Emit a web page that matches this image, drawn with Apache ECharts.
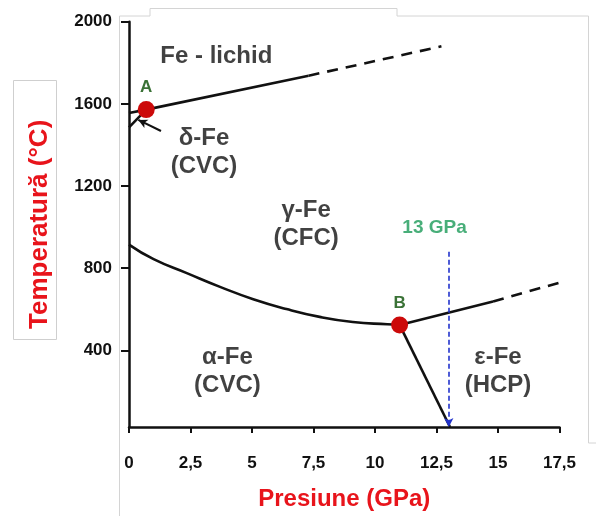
<!DOCTYPE html>
<html>
<head>
<meta charset="utf-8">
<script src="https://cdn.jsdelivr.net/npm/echarts@6/dist/echarts.min.js"></script>
<style>
html,body{margin:0;padding:0;background:#fff;}
#c{width:596px;height:516px;}
</style>
</head>
<body>
<div id="c"></div>
<script>
// ---- data (pressure GPa, temperature °C) ----
const xTicks = [0, 2.5, 5, 7.5, 10, 12.5, 15, 17.5];
const yTicks = [400, 800, 1200, 1600, 2000];
const liquidusSolid = [[0.7, 1572], [7.3, 1737]];
const liquidusDashed = [[7.3, 1737], [12.7, 1880]];
const deltaLiquid = [[0, 1556], [0.7, 1572]];
const deltaGamma = [[0, 1486], [0.7, 1572]];
const deltaPointer = [[1.3, 1468], [0.38, 1522]];
const alphaGamma = [[0, 915], [1.0, 844], [2.35, 776], [3.7, 709], [5.05, 649], [6.4, 601], [7.75, 563], [9.1, 538], [10.5, 527], [11.0, 524]];
const gammaEpsSolid = [[11.0, 524], [14.8, 638]];
const gammaEpsDashed = [[14.8, 638], [17.5, 730]];
const alphaEps = [[11.0, 524], [13.05, 27]];
const triplePoints = [[0.7, 1572, 'A'], [11.0, 524, 'B']];
const line13 = [[13, 880], [13, 27]];
const regionLabels = [
  [3.55, 1832, 'Fe - lichid'],
  [3.05, 1362, 'δ-Fe\n(CVC)'],
  [7.2, 1015, 'γ-Fe\n(CFC)'],
  [4.0, 299, 'α-Fe\n(CVC)'],
  [15.0, 297, 'ε-Fe\n(HCP)']
];
const gpaLabel = [[12.42, 996, '13 GPa']];

const chart = echarts.init(document.getElementById('c'), null, {renderer: 'canvas'});
const black = '#111';
const red = '#e8141b';
const lw = 2.6;
function ln(data, dashed, smooth) {
  return {
    type: 'line', data: data, symbol: 'none', smooth: !!smooth, silent: true,
    lineStyle: {color: black, width: lw, type: dashed ? [11, 8] : 'solid'},
    z: 3
  };
}
const option = {
  animation: false,
  backgroundColor: '#fff',
  grid: {left: 129, right: 36.5, top: 21.7, bottom: 79.3, containLabel: false},
  xAxis: {
    type: 'value', min: 0, max: 17.5, interval: 2.5,
    name: 'Presiune (GPa)', nameLocation: 'middle', nameGap: 60,
    nameTextStyle: {color: red, fontSize: 24, fontWeight: 'bold', fontFamily: 'Liberation Sans'},
    axisLine: {show: true, onZero: false, lineStyle: {color: black, width: 2.5}},
    axisTick: {show: true, length: 6, lineStyle: {color: black, width: 2}},
    axisLabel: {
      color: '#111', fontSize: 17, fontWeight: 'bold', fontFamily: 'Liberation Sans', margin: 28,
      formatter: function (v) { return String(v).replace('.', ','); }
    },
    splitLine: {show: false}
  },
  yAxis: {
    type: 'value', min: 27, max: 2000,
    name: 'Temperatură (°C)', nameLocation: 'middle', nameGap: 76, nameRotate: 90,
    nameTextStyle: {color: red, fontSize: 26, fontWeight: 'bold', fontFamily: 'Liberation Sans'},
    axisLine: {show: true, onZero: false, lineStyle: {color: black, width: 2.5}},
    axisTick: {show: true, length: 8, customValues: yTicks, lineStyle: {color: black, width: 2}},
    axisLabel: {
      color: '#111', fontSize: 17, fontWeight: 'bold', fontFamily: 'Liberation Sans', margin: 17,
      customValues: yTicks,
      formatter: function (v) { return String(v); }
    },
    splitLine: {show: false}
  },
  graphic: [
    {type: 'rect', shape: {x: 13.5, y: 80.5, width: 43, height: 259}, style: {fill: 'none', stroke: '#cfcfcf', lineWidth: 1}, z: -1},
    {type: 'polyline', shape: {points: [[119.5, 516], [119.5, 16], [150, 16], [150, 8.5], [397, 8.5], [397, 16], [588.5, 16], [588.5, 443], [596, 443]]}, style: {fill: 'none', stroke: '#d4d4d4', lineWidth: 1}, z: -1}
  ],
  series: [
    ln(liquidusSolid),
    ln(liquidusDashed, true),
    ln(deltaLiquid),
    ln(deltaGamma),
    ln(alphaGamma, false, 0.35),
    ln(gammaEpsSolid),
    ln(gammaEpsDashed, true),
    ln(alphaEps),
    {
      type: 'line', data: [], symbol: 'none', silent: true,
      markLine: {
        silent: true, animation: false,
        symbol: ['none', 'arrow'], symbolSize: [7, 9],
        label: {show: false},
        data: [
          [{coord: deltaPointer[0], lineStyle: {color: black, width: 2, type: 'solid'}}, {coord: deltaPointer[1]}],
          [{coord: line13[0], lineStyle: {color: '#2233cc', width: 1.6, type: [5, 3]}}, {coord: line13[1]}]
        ]
      }
    },
    {
      type: 'scatter', data: triplePoints, symbolSize: 17, silent: true, z: 5,
      itemStyle: {color: '#cc0a0a', opacity: 1},
      label: {
        show: true, position: 'top', distance: 5, formatter: function (p) { return p.data[2]; },
        color: '#3a7236', fontSize: 17, fontWeight: 'bold', fontFamily: 'Liberation Sans'
      }
    },
    {
      type: 'scatter', data: regionLabels, symbolSize: 0, silent: true, z: 6,
      label: {
        show: true, position: 'inside', formatter: function (p) { return p.data[2]; },
        color: '#111', fontSize: 24, fontWeight: 'bold', fontFamily: 'Liberation Sans',
        lineHeight: 28, align: 'center', verticalAlign: 'middle'
      }
    },
    {
      type: 'scatter', data: gpaLabel, symbolSize: 0, silent: true, z: 6,
      label: {
        show: true, position: 'inside', formatter: function (p) { return p.data[2]; },
        color: '#1a9a58', fontSize: 19, fontWeight: 'bold', fontFamily: 'Liberation Sans'
      }
    }
  ]
};
chart.setOption(option);
</script>
</body>
</html>
